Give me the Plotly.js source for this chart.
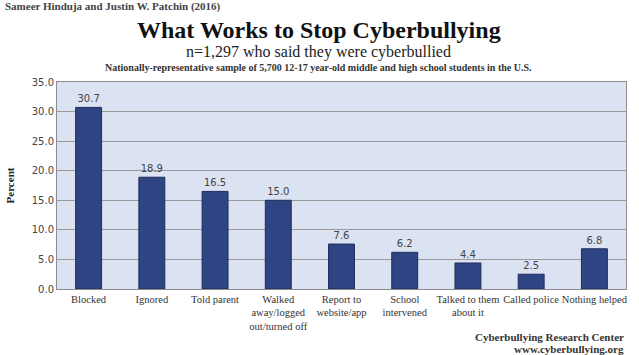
<!DOCTYPE html>
<html><head><meta charset="utf-8">
<script src="https://cdn.plot.ly/plotly-3.0.1.min.js"></script>
<style>html,body{margin:0;padding:0;background:#fff;}#chart{width:639px;height:355px;}</style>
</head><body><div id="chart"></div>
<script>
const categories = ["Blocked","Ignored","Told parent","Walked<br>away/logged<br>out/turned off","Report to<br>website/app","School<br>intervened","Talked to them<br>about it","Called police","Nothing helped"];
const values = [30.7, 18.9, 16.5, 15.0, 7.6, 6.2, 4.4, 2.5, 6.8];
const yTicks = [0,5,10,15,20,25,30,35];
const yTickLabels = ["0.0","5.0","10.0","15.0","20.0","25.0","30.0","35.0"];

const F = "Liberation Serif, serif";
const S = "DejaVu Sans, Verdana, sans-serif";
const trace = {
  type: "bar", x: categories, y: values,
  text: values.map(v => v.toFixed(1)), textposition: "outside",
  textfont: {family: S, size: 10, color: "#444"},
  cliponaxis: false,
  marker: {color: "#2f4483", line: {color: "#1e2d5c", width: 1}},
  hoverinfo: "none"
};
const layout = {
  width: 639, height: 355,
  margin: {l: 57, r: 13, t: 82, b: 66},
  paper_bgcolor: "#ffffff", plot_bgcolor: "#dbe2f1",
  bargap: 0.59, showlegend: false,
  font: {family: F, size: 11, color: "#333"},
  xaxis: {type: "category", showline: true, linecolor: "#8c8c8c", linewidth: 1, mirror: true,
          ticks: "", tickangle: 0, automargin: false, tickfont: {family: F, size: 10.5, color: "#333"}, fixedrange: true},
  yaxis: {range: [0, 35], tickvals: yTicks, ticktext: yTickLabels, showgrid: true, gridcolor: "#9a9a9a", gridwidth: 1,
          showline: true, linecolor: "#8c8c8c", linewidth: 1, mirror: true, ticks: "", zeroline: false,
          tickfont: {family: S, size: 10, color: "#444"}, automargin: false,
          title: {text: "<b>Percent</b>", font: {family: F, size: 11, color: "#222"}, standoff: 14}},
  annotations: [
    {text: "<b>Sameer Hinduja and Justin W. Patchin (2016)</b>", xref: "paper", yref: "paper", x: -0.095, y: 1.367, xanchor: "left", yanchor: "middle", showarrow: false, font: {family: F, size: 11, color: "#444"}},
    {text: "<b>What Works to Stop Cyberbullying</b>", xref: "paper", yref: "paper", x: 0.46, y: 1.251, xanchor: "center", yanchor: "middle", showarrow: false, font: {family: F, size: 24, color: "#111"}},
    {text: "n=1,297 who said they were cyberbullied", xref: "paper", yref: "paper", x: 0.46, y: 1.145, xanchor: "center", yanchor: "middle", showarrow: false, font: {family: F, size: 16, color: "#222"}},
    {text: "<b>Nationally-representative sample of 5,700 12-17 year-old middle and high school students in the U.S.</b>", xref: "paper", yref: "paper", x: 0.46, y: 1.068, xanchor: "center", yanchor: "middle", showarrow: false, font: {family: F, size: 10, color: "#333"}},
    {text: "<b>Cyberbullying Research Center</b>", xref: "paper", yref: "paper", x: 1.0, y: -0.232, xanchor: "right", yanchor: "middle", showarrow: false, font: {family: F, size: 11, color: "#333"}},
    {text: "<b>www.cyberbullying.org</b>", xref: "paper", yref: "paper", x: 1.0, y: -0.29, xanchor: "right", yanchor: "middle", showarrow: false, font: {family: F, size: 11, color: "#333"}}
  ]
};
Plotly.newPlot("chart", [trace], layout, {displayModeBar: false, staticPlot: true});
</script></body></html>
